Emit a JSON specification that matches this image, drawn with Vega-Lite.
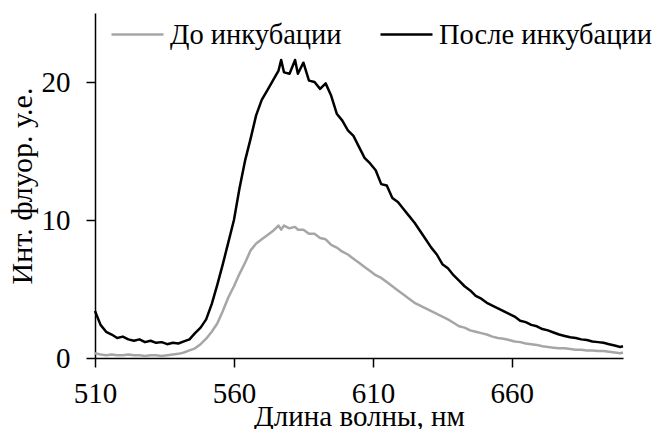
{
  "$schema": "https://vega.github.io/schema/vega-lite/v6.json",
  "width": 528,
  "height": 345,
  "autosize": {"type": "none"},
  "padding": {"left": 95, "top": 13, "right": 38, "bottom": 71},
  "config": {
    "view": {"stroke": null},
    "font": "Liberation Serif",
    "axis": {
      "grid": false,
      "domainColor": "#000000",
      "domainWidth": 1.5,
      "tickColor": "#000000",
      "tickWidth": 1.5,
      "tickSize": 9,
      "labelFont": "Liberation Serif",
      "labelFontSize": 29,
      "labelColor": "#000000",
      "labelFlush": false,
      "titleFont": "Liberation Serif",
      "titleFontSize": 29,
      "titleFontWeight": "normal",
      "titleColor": "#000000"
    }
  },
  "data": {
    "values": [
      {"nm": 510, "До инкубации": 0.35, "После инкубации": 3.4},
      {"nm": 512, "До инкубации": 0.25, "После инкубации": 2.4},
      {"nm": 514, "До инкубации": 0.2, "После инкубации": 1.9},
      {"nm": 516, "До инкубации": 0.25, "После инкубации": 1.7},
      {"nm": 518, "До инкубации": 0.2, "После инкубации": 1.45},
      {"nm": 520, "До инкубации": 0.2, "После инкубации": 1.55},
      {"nm": 522, "До инкубации": 0.25, "После инкубации": 1.35},
      {"nm": 524, "До инкубации": 0.2, "После инкубации": 1.25},
      {"nm": 526, "До инкубации": 0.2, "После инкубации": 1.35},
      {"nm": 528, "До инкубации": 0.15, "После инкубации": 1.15},
      {"nm": 530, "До инкубации": 0.2, "После инкубации": 1.25},
      {"nm": 532, "До инкубации": 0.2, "После инкубации": 1.1},
      {"nm": 534, "До инкубации": 0.15, "После инкубации": 1.15},
      {"nm": 536, "До инкубации": 0.2, "После инкубации": 1.0},
      {"nm": 538, "До инкубации": 0.25, "После инкубации": 1.1},
      {"nm": 540, "До инкубации": 0.3, "После инкубации": 1.05},
      {"nm": 542, "До инкубации": 0.4, "После инкубации": 1.2},
      {"nm": 544, "До инкубации": 0.55, "После инкубации": 1.35},
      {"nm": 546, "До инкубации": 0.7, "После инкубации": 1.8},
      {"nm": 548, "До инкубации": 1.0, "После инкубации": 2.2},
      {"nm": 550, "До инкубации": 1.4, "После инкубации": 2.8},
      {"nm": 552, "До инкубации": 1.9, "После инкубации": 3.9},
      {"nm": 554, "До инкубации": 2.5, "После инкубации": 5.3},
      {"nm": 556, "До инкубации": 3.4, "После инкубации": 6.8},
      {"nm": 558, "До инкубации": 4.4, "После инкубации": 8.4},
      {"nm": 560, "До инкубации": 5.2, "После инкубации": 10.0},
      {"nm": 562, "До инкубации": 6.1, "После инкубации": 12.3},
      {"nm": 564, "До инкубации": 6.9, "После инкубации": 14.3},
      {"nm": 566, "До инкубации": 7.8, "После инкубации": 15.9},
      {"nm": 568, "До инкубации": 8.3, "После инкубации": 17.6},
      {"nm": 570, "До инкубации": 8.6, "После инкубации": 18.7},
      {"nm": 572, "До инкубации": 8.9, "После инкубации": 19.4},
      {"nm": 574, "До инкубации": 9.2, "После инкубации": 20.1},
      {"nm": 576, "До инкубации": 9.6, "После инкубации": 20.8},
      {"nm": 577, "До инкубации": 9.3, "После инкубации": 21.6},
      {"nm": 578, "До инкубации": 9.6, "После инкубации": 20.7},
      {"nm": 580, "До инкубации": 9.4, "После инкубации": 20.6},
      {"nm": 582, "До инкубации": 9.5, "После инкубации": 21.6},
      {"nm": 583, "До инкубации": 9.3, "После инкубации": 20.6},
      {"nm": 585, "До инкубации": 9.3, "После инкубации": 21.4},
      {"nm": 587, "До инкубации": 9.0, "После инкубации": 20.1},
      {"nm": 589, "До инкубации": 9.0, "После инкубации": 20.0},
      {"nm": 591, "До инкубации": 8.7, "После инкубации": 19.5},
      {"nm": 593, "До инкубации": 8.6, "После инкубации": 19.9},
      {"nm": 595, "До инкубации": 8.2, "После инкубации": 19.0},
      {"nm": 597, "До инкубации": 8.0, "После инкубации": 17.7},
      {"nm": 599, "До инкубации": 7.7, "После инкубации": 17.2},
      {"nm": 601, "До инкубации": 7.5, "После инкубации": 16.5},
      {"nm": 603, "До инкубации": 7.2, "После инкубации": 16.1},
      {"nm": 605, "До инкубации": 6.9, "После инкубации": 15.3},
      {"nm": 607, "До инкубации": 6.6, "После инкубации": 14.5},
      {"nm": 609, "До инкубации": 6.3, "После инкубации": 14.1},
      {"nm": 611, "До инкубации": 6.0, "После инкубации": 13.6},
      {"nm": 613, "До инкубации": 5.8, "После инкубации": 12.6},
      {"nm": 615, "До инкубации": 5.5, "После инкубации": 12.5},
      {"nm": 617, "До инкубации": 5.2, "После инкубации": 11.6},
      {"nm": 619, "До инкубации": 4.9, "После инкубации": 11.3},
      {"nm": 621, "До инкубации": 4.6, "После инкубации": 10.8},
      {"nm": 623, "До инкубации": 4.3, "После инкубации": 10.3},
      {"nm": 625, "До инкубации": 4.0, "После инкубации": 9.8},
      {"nm": 627, "До инкубации": 3.8, "После инкубации": 9.2},
      {"nm": 629, "До инкубации": 3.6, "После инкубации": 8.6},
      {"nm": 631, "До инкубации": 3.4, "После инкубации": 8.0},
      {"nm": 633, "До инкубации": 3.2, "После инкубации": 7.5},
      {"nm": 635, "До инкубации": 3.0, "После инкубации": 6.8},
      {"nm": 637, "До инкубации": 2.8, "После инкубации": 6.5},
      {"nm": 639, "До инкубации": 2.55, "После инкубации": 6.0},
      {"nm": 641, "До инкубации": 2.3, "После инкубации": 5.6},
      {"nm": 643, "До инкубации": 2.2, "После инкубации": 5.2},
      {"nm": 645, "До инкубации": 2.0, "После инкубации": 4.9},
      {"nm": 647, "До инкубации": 1.9, "После инкубации": 4.5},
      {"nm": 649, "До инкубации": 1.8, "После инкубации": 4.3},
      {"nm": 651, "До инкубации": 1.7, "После инкубации": 4.0},
      {"nm": 653, "До инкубации": 1.55, "После инкубации": 3.8},
      {"nm": 655, "До инкубации": 1.45, "После инкубации": 3.6},
      {"nm": 657, "До инкубации": 1.4, "После инкубации": 3.4},
      {"nm": 659, "До инкубации": 1.3, "После инкубации": 3.2},
      {"nm": 661, "До инкубации": 1.2, "После инкубации": 3.0},
      {"nm": 663, "До инкубации": 1.15, "После инкубации": 2.7},
      {"nm": 665, "До инкубации": 1.05, "После инкубации": 2.6},
      {"nm": 667, "До инкубации": 1.0, "После инкубации": 2.4},
      {"nm": 669, "До инкубации": 0.95, "После инкубации": 2.3},
      {"nm": 671, "До инкубации": 0.85, "После инкубации": 2.1},
      {"nm": 673, "До инкубации": 0.8, "После инкубации": 2.0},
      {"nm": 675, "До инкубации": 0.75, "После инкубации": 1.85},
      {"nm": 677, "До инкубации": 0.7, "После инкубации": 1.7},
      {"nm": 679, "До инкубации": 0.7, "После инкубации": 1.6},
      {"nm": 681, "До инкубации": 0.65, "После инкубации": 1.5},
      {"nm": 683, "До инкубации": 0.6, "После инкубации": 1.45},
      {"nm": 685, "До инкубации": 0.6, "После инкубации": 1.35},
      {"nm": 687, "До инкубации": 0.55, "После инкубации": 1.3},
      {"nm": 689, "До инкубации": 0.55, "После инкубации": 1.2},
      {"nm": 691, "До инкубации": 0.5, "После инкубации": 1.15},
      {"nm": 693, "До инкубации": 0.5, "После инкубации": 1.1},
      {"nm": 695, "До инкубации": 0.45, "После инкубации": 1.0},
      {"nm": 697, "До инкубации": 0.4, "После инкубации": 0.9},
      {"nm": 699, "До инкубации": 0.35, "После инкубации": 0.8},
      {"nm": 700, "До инкубации": 0.4, "После инкубации": 0.85}
    ]
  },
  "transform": [
    {"fold": ["До инкубации", "После инкубации"], "as": ["series", "value"]}
  ],
  "mark": {"type": "line", "strokeWidth": 2.5, "strokeJoin": "round"},
  "encoding": {
    "x": {
      "field": "nm",
      "type": "quantitative",
      "scale": {"domain": [510, 700], "nice": false, "zero": false},
      "axis": {
        "values": [510, 560, 610, 660],
        "title": "Длина волны, нм",
        "labelPadding": 12,
        "titlePadding": -6
      }
    },
    "y": {
      "field": "value",
      "type": "quantitative",
      "scale": {"domain": [0, 25], "nice": false},
      "axis": {
        "values": [0, 10, 20],
        "title": "Инт. флуор. у.е.",
        "titleFontSize": 30,
        "labelPadding": 16,
        "titlePadding": 4
      }
    },
    "color": {
      "field": "series",
      "type": "nominal",
      "scale": {
        "domain": ["До инкубации", "После инкубации"],
        "range": ["#a6a6a6", "#000000"]
      },
      "legend": {
        "orient": "none",
        "legendX": 15,
        "legendY": -6,
        "direction": "horizontal",
        "title": null,
        "symbolType": "stroke",
        "symbolSize": 2704,
        "symbolStrokeWidth": 2.5,
        "labelFont": "Liberation Serif",
        "labelFontSize": 28.5,
        "labelLimit": 0,
        "labelColor": "#000000",
        "labelOffset": 5,
        "columnPadding": 33,
        "padding": 0
      }
    }
  }
}
